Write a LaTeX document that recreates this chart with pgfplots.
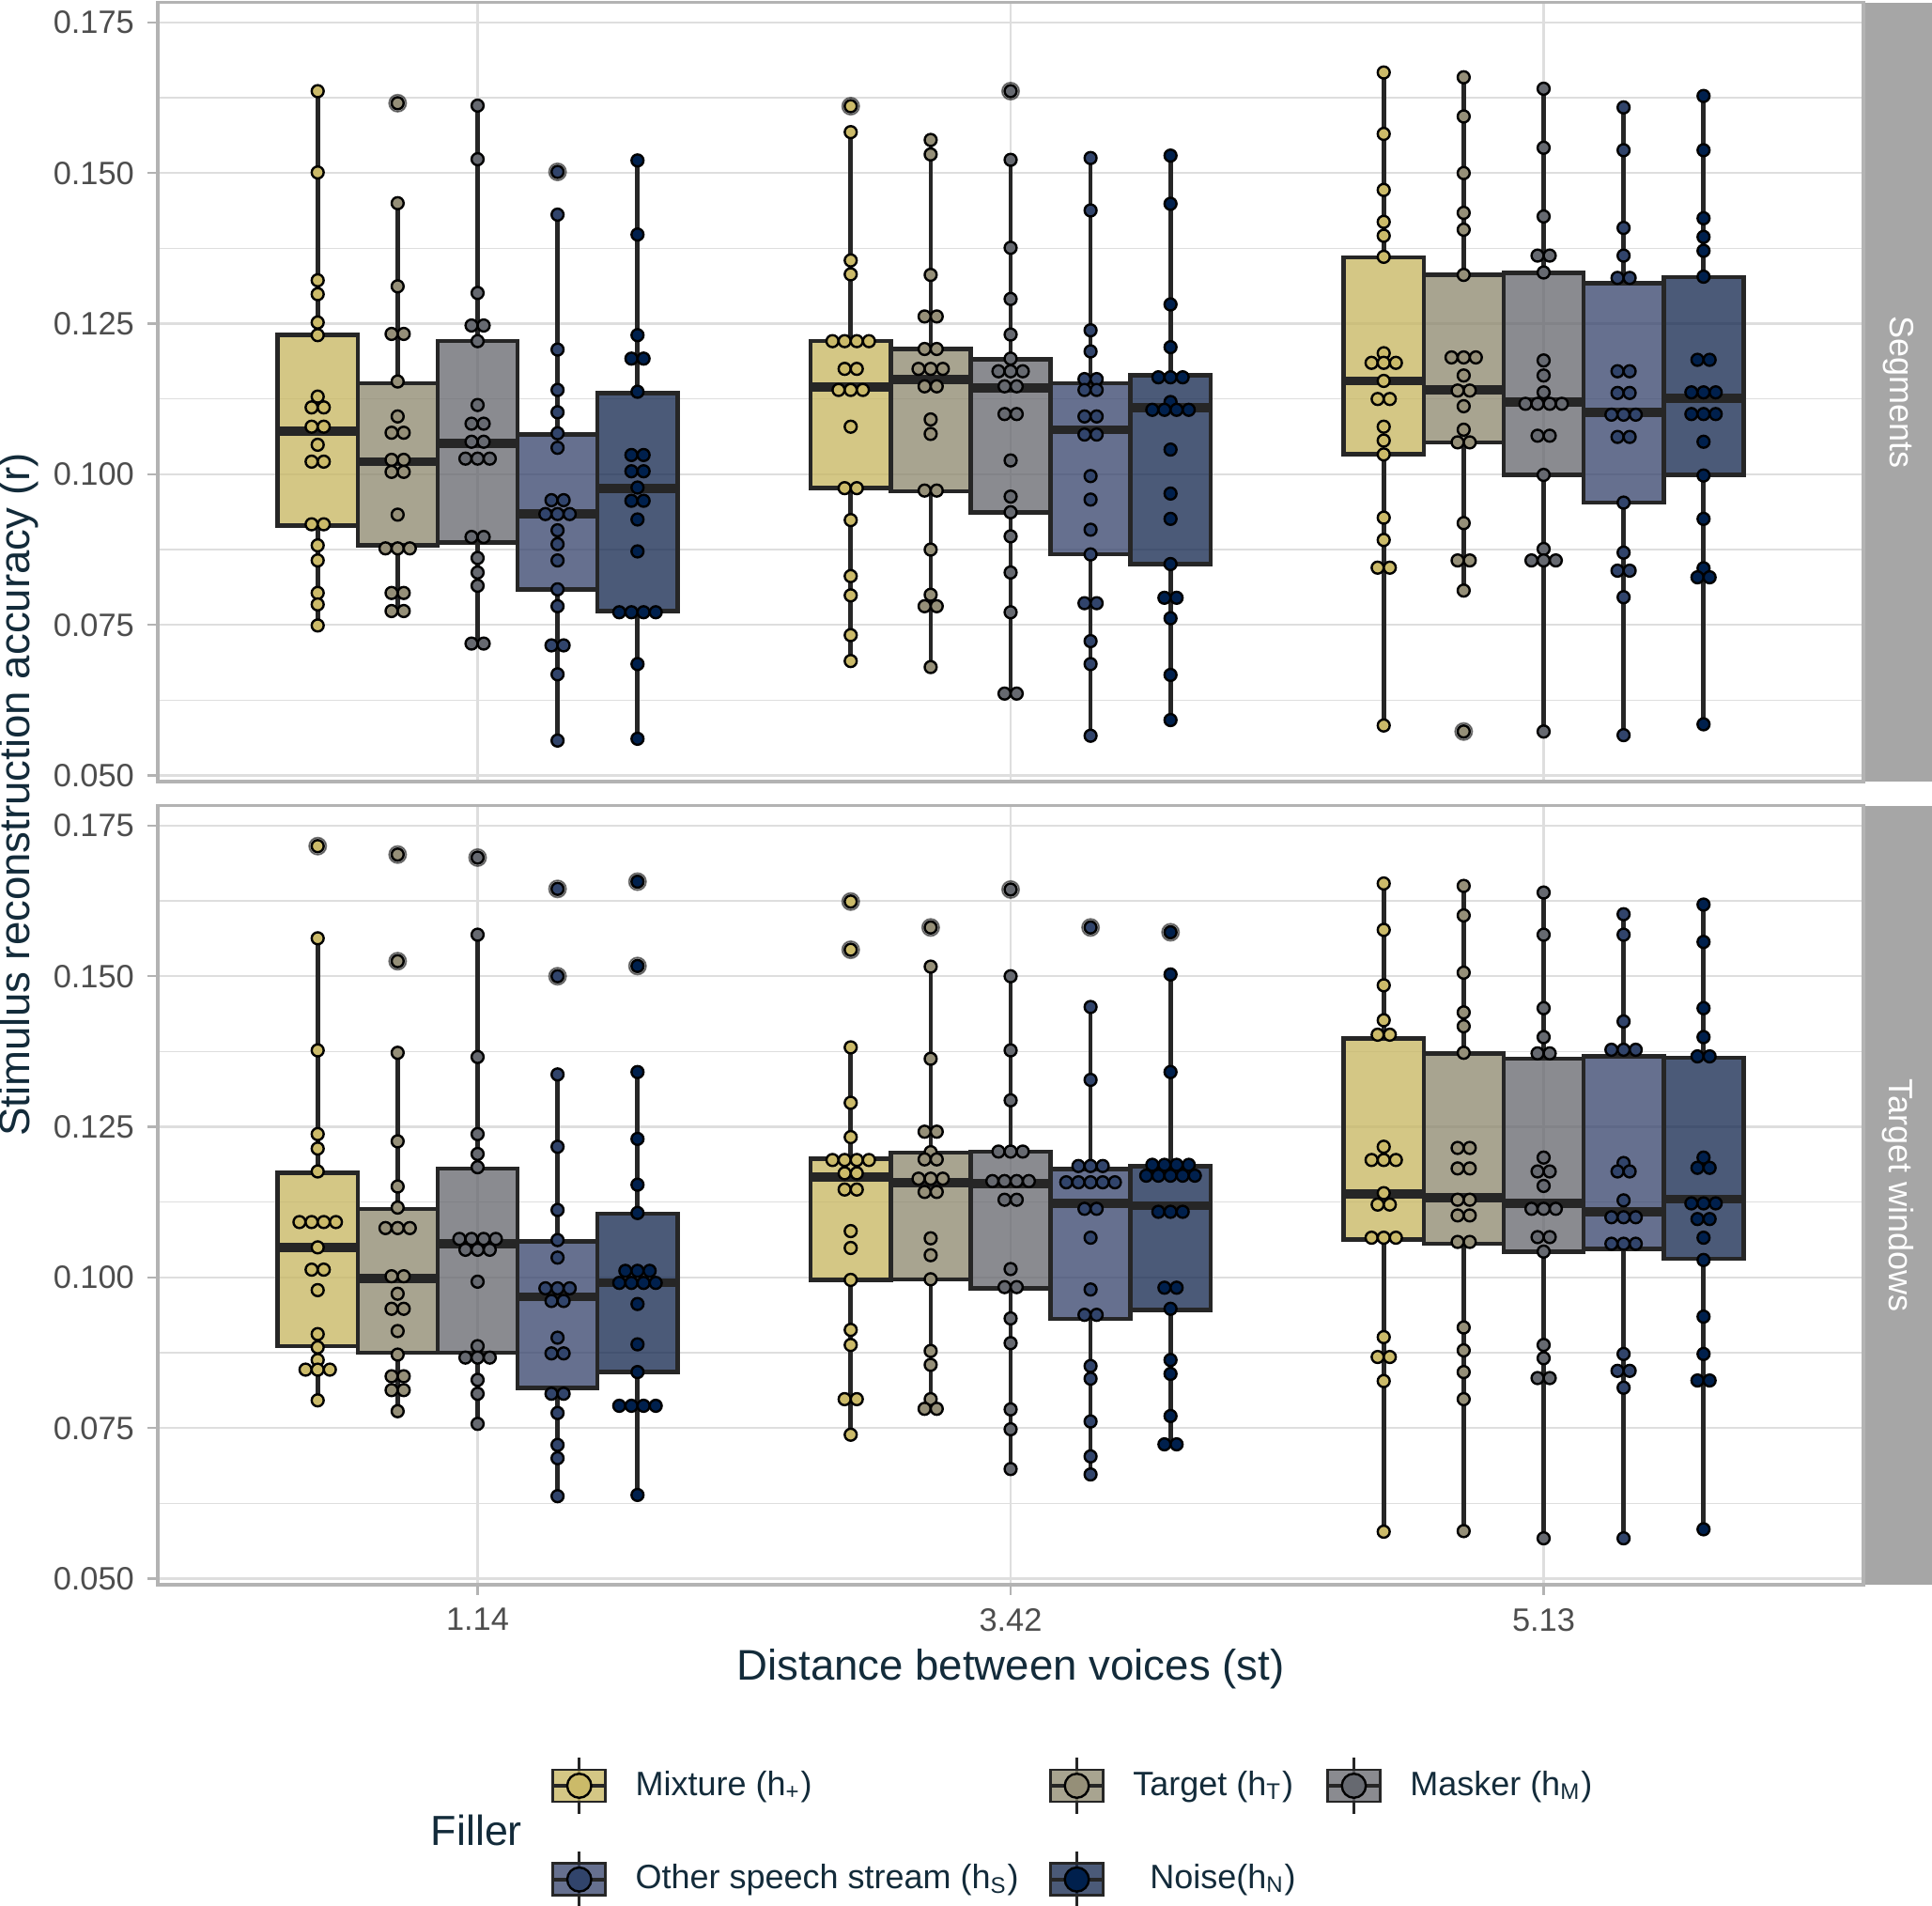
\documentclass[border=0pt]{standalone}
\usepackage{fontspec}
\setmainfont{Liberation Sans}
\usepackage{pgfplots}
\usepackage{pgfplotstable}
\pgfplotsset{compat=1.18}

\definecolor{cMix}{HTML}{CBBA69}
\definecolor{cTar}{HTML}{958F78}
\definecolor{cMas}{HTML}{666970}
\definecolor{cOth}{HTML}{31446B}
\definecolor{cNoi}{HTML}{00204D}
\definecolor{bMix}{HTML}{C8B763}
\definecolor{bTar}{HTML}{8F8A71}
\definecolor{bMas}{HTML}{696A71}
\definecolor{bOth}{HTML}{3B486F}
\definecolor{bNoi}{HTML}{182B52}
\definecolor{boxline}{HTML}{262626}
\definecolor{gridc}{HTML}{DEDEDE}
\definecolor{borderc}{HTML}{B3B3B3}
\definecolor{stripc}{HTML}{A6A6A6}
\definecolor{titlec}{HTML}{132B3A}
\definecolor{tickc}{HTML}{4D4D4D}

% ---------------- Segments panel: dots (pos = box position, k = stack offset, y = value)
\pgfplotstableread[row sep=\\]{
pos k y\\
0.7 0 0.1636\\ 0.7 0 0.1501\\ 0.7 0 0.1322\\ 0.7 0 0.1299\\ 0.7 0 0.1252\\ 0.7 0 0.1231\\ 0.7 0 0.1129\\
0.7 -0.5 0.1111\\ 0.7 0.5 0.1111\\ 0.7 -0.5 0.1079\\ 0.7 0.5 0.1079\\ 0.7 0 0.1049\\ 0.7 -0.5 0.1021\\ 0.7 0.5 0.1021\\
0.7 -0.5 0.0917\\ 0.7 0.5 0.0917\\ 0.7 0 0.0882\\ 0.7 0 0.0857\\ 0.7 0 0.0803\\ 0.7 0 0.0784\\ 0.7 0 0.0749\\
1.7 0 0.1611\\ 1.7 0 0.1568\\ 1.7 0 0.1355\\ 1.7 0 0.1332\\ 1.7 -1.5 0.1221\\ 1.7 -0.5 0.1221\\ 1.7 0.5 0.1221\\ 1.7 1.5 0.1221\\
1.7 -0.5 0.1175\\ 1.7 0.5 0.1175\\ 1.7 -1 0.1140\\ 1.7 0 0.1140\\ 1.7 1 0.1140\\ 1.7 0 0.1079\\ 1.7 -0.5 0.0977\\ 1.7 0.5 0.0977\\
1.7 0 0.0924\\ 1.7 0 0.0831\\ 1.7 0 0.0799\\ 1.7 0 0.0733\\ 1.7 0 0.0690\\
2.7 0 0.1667\\ 2.7 0 0.1565\\ 2.7 0 0.1472\\ 2.7 0 0.1419\\ 2.7 0 0.1396\\ 2.7 0 0.1361\\ 2.7 0 0.1201\\
2.7 -1 0.1185\\ 2.7 0 0.1185\\ 2.7 1 0.1185\\ 2.7 0 0.1155\\ 2.7 -0.5 0.1125\\ 2.7 0.5 0.1125\\ 2.7 0 0.1079\\ 2.7 0 0.1056\\
2.7 0 0.1033\\ 2.7 0 0.0928\\ 2.7 0 0.0891\\ 2.7 -0.5 0.0845\\ 2.7 0.5 0.0845\\ 2.7 0 0.0583\\
}\MixS
\pgfplotstableread[row sep=\\]{
pos k y\\
0.85 0 0.1616\\ 0.85 0 0.1450\\ 0.85 0 0.1312\\ 0.85 -0.5 0.1233\\ 0.85 0.5 0.1233\\ 0.85 0 0.1154\\ 0.85 0 0.1096\\
0.85 -0.5 0.1069\\ 0.85 0.5 0.1069\\ 0.85 -0.5 0.1024\\ 0.85 0.5 0.1024\\ 0.85 -0.5 0.1004\\ 0.85 0.5 0.1004\\ 0.85 0 0.0933\\
0.85 -1 0.0877\\ 0.85 0 0.0877\\ 0.85 1 0.0877\\ 0.85 -0.5 0.0803\\ 0.85 0.5 0.0803\\ 0.85 -0.5 0.0773\\ 0.85 0.5 0.0773\\
1.85 0 0.1555\\ 1.85 0 0.1531\\ 1.85 0 0.1331\\ 1.85 -0.5 0.1262\\ 1.85 0.5 0.1262\\ 1.85 -0.5 0.1208\\ 1.85 0.5 0.1208\\
1.85 -1 0.1175\\ 1.85 0 0.1175\\ 1.85 1 0.1175\\ 1.85 -0.5 0.1146\\ 1.85 0.5 0.1146\\ 1.85 0 0.1091\\ 1.85 0 0.1067\\
1.85 -0.5 0.0973\\ 1.85 0.5 0.0973\\ 1.85 0 0.0875\\ 1.85 0 0.0800\\ 1.85 -0.5 0.0781\\ 1.85 0.5 0.0781\\ 1.85 0 0.0680\\
2.85 0 0.1659\\ 2.85 0 0.1594\\ 2.85 0 0.1500\\ 2.85 0 0.1434\\ 2.85 0 0.1406\\ 2.85 0 0.1331\\ 2.85 -1 0.1194\\ 2.85 0 0.1194\\
2.85 1 0.1194\\ 2.85 0 0.1164\\ 2.85 -0.5 0.1139\\ 2.85 0.5 0.1139\\ 2.85 0 0.1113\\ 2.85 0 0.1074\\ 2.85 -0.5 0.1053\\ 2.85 0.5 0.1053\\
2.85 0 0.0919\\ 2.85 -0.5 0.0857\\ 2.85 0.5 0.0857\\ 2.85 0 0.0807\\ 2.85 0 0.0573\\
}\TarS
\pgfplotstableread[row sep=\\]{
pos k y\\
1.0 0 0.1612\\ 1.0 0 0.1523\\ 1.0 0 0.1301\\ 1.0 -0.5 0.1247\\ 1.0 0.5 0.1247\\ 1.0 0 0.1221\\ 1.0 0 0.1115\\
1.0 -0.5 0.1084\\ 1.0 0.5 0.1084\\ 1.0 -0.5 0.1054\\ 1.0 0.5 0.1054\\ 1.0 -1 0.1026\\ 1.0 0 0.1026\\ 1.0 1 0.1026\\
1.0 -0.5 0.0896\\ 1.0 0.5 0.0896\\ 1.0 0 0.0861\\ 1.0 0 0.0837\\ 1.0 0 0.0815\\ 1.0 -0.5 0.0719\\ 1.0 0.5 0.0719\\
2.0 0 0.1636\\ 2.0 0 0.1522\\ 2.0 0 0.1376\\ 2.0 0 0.1291\\ 2.0 0 0.1232\\ 2.0 0 0.1192\\ 2.0 -1 0.1171\\ 2.0 0 0.1171\\ 2.0 1 0.1171\\
2.0 -0.5 0.1146\\ 2.0 0.5 0.1146\\ 2.0 -0.5 0.1100\\ 2.0 0.5 0.1100\\ 2.0 0 0.1023\\ 2.0 0 0.0963\\ 2.0 0 0.0937\\ 2.0 0 0.0897\\
2.0 0 0.0837\\ 2.0 0 0.0771\\ 2.0 -0.5 0.0636\\ 2.0 0.5 0.0636\\
3.0 0 0.1640\\ 3.0 0 0.1542\\ 3.0 0 0.1428\\ 3.0 -0.5 0.1363\\ 3.0 0.5 0.1363\\ 3.0 0 0.1335\\ 3.0 0 0.1189\\ 3.0 0 0.1164\\
3.0 0 0.1136\\ 3.0 -1.5 0.1117\\ 3.0 -0.5 0.1117\\ 3.0 0.5 0.1117\\ 3.0 1.5 0.1117\\ 3.0 -0.5 0.1064\\ 3.0 0.5 0.1064\\ 3.0 0 0.0999\\
3.0 0 0.0876\\ 3.0 -1 0.0857\\ 3.0 0 0.0857\\ 3.0 1 0.0857\\ 3.0 0 0.0573\\
}\MasS
\pgfplotstableread[row sep=\\]{
pos k y\\
1.15 0 0.1502\\ 1.15 0 0.1431\\ 1.15 0 0.1207\\ 1.15 0 0.1140\\ 1.15 0 0.1103\\ 1.15 0 0.1068\\ 1.15 0 0.1044\\
1.15 -0.5 0.0957\\ 1.15 0.5 0.0957\\ 1.15 -1 0.0934\\ 1.15 0 0.0934\\ 1.15 1 0.0934\\ 1.15 0 0.0907\\ 1.15 0 0.0884\\
1.15 0 0.0857\\ 1.15 0 0.0809\\ 1.15 0 0.0781\\ 1.15 -0.5 0.0716\\ 1.15 0.5 0.0716\\ 1.15 0 0.0668\\ 1.15 0 0.0558\\
2.15 0 0.1525\\ 2.15 0 0.1438\\ 2.15 0 0.1239\\ 2.15 0 0.1204\\ 2.15 -0.5 0.1158\\ 2.15 0.5 0.1158\\ 2.15 -0.5 0.1140\\ 2.15 0.5 0.1140\\
2.15 -0.5 0.1096\\ 2.15 0.5 0.1096\\ 2.15 -0.5 0.1066\\ 2.15 0.5 0.1066\\ 2.15 0 0.0997\\ 2.15 0 0.0958\\ 2.15 0 0.0908\\
2.15 0 0.0867\\ 2.15 -0.5 0.0786\\ 2.15 0.5 0.0786\\ 2.15 0 0.0723\\ 2.15 0 0.0685\\ 2.15 0 0.0566\\
3.15 0 0.1609\\ 3.15 0 0.1538\\ 3.15 0 0.1409\\ 3.15 0 0.1363\\ 3.15 -0.5 0.1326\\ 3.15 0.5 0.1326\\ 3.15 -0.5 0.1171\\ 3.15 0.5 0.1171\\
3.15 -0.5 0.1135\\ 3.15 0.5 0.1135\\ 3.15 -1 0.1099\\ 3.15 0 0.1099\\ 3.15 1 0.1099\\ 3.15 -0.5 0.1062\\ 3.15 0.5 0.1062\\
3.15 0 0.0953\\ 3.15 0 0.0870\\ 3.15 -0.5 0.0840\\ 3.15 0.5 0.0840\\ 3.15 0 0.0796\\ 3.15 0 0.0567\\
}\OthS
\pgfplotstableread[row sep=\\]{
pos k y\\
1.3 0 0.1521\\ 1.3 0 0.1398\\ 1.3 0 0.1231\\ 1.3 -0.5 0.1192\\ 1.3 0.5 0.1192\\ 1.3 0 0.1137\\ 1.3 -0.5 0.1032\\ 1.3 0.5 0.1032\\
1.3 -0.5 0.1005\\ 1.3 0.5 0.1005\\ 1.3 0 0.0978\\ 1.3 -0.5 0.0956\\ 1.3 0.5 0.0956\\ 1.3 0 0.0925\\ 1.3 0 0.0872\\
1.3 -1.5 0.0771\\ 1.3 -0.5 0.0771\\ 1.3 0.5 0.0771\\ 1.3 1.5 0.0771\\ 1.3 0 0.0685\\ 1.3 0 0.0561\\
2.3 0 0.1529\\ 2.3 0 0.1449\\ 2.3 0 0.1282\\ 2.3 0 0.1211\\ 2.3 -1 0.1161\\ 2.3 0 0.1161\\ 2.3 1 0.1161\\ 2.3 0 0.1120\\
2.3 -1.5 0.1107\\ 2.3 -0.5 0.1107\\ 2.3 0.5 0.1107\\ 2.3 1.5 0.1107\\ 2.3 0 0.1041\\ 2.3 0 0.0968\\ 2.3 0 0.0926\\ 2.3 0 0.0851\\
2.3 -0.5 0.0795\\ 2.3 0.5 0.0795\\ 2.3 0 0.0761\\ 2.3 0 0.0667\\ 2.3 0 0.0592\\
3.3 0 0.1628\\ 3.3 0 0.1538\\ 3.3 0 0.1425\\ 3.3 0 0.1394\\ 3.3 0 0.1371\\ 3.3 0 0.1328\\ 3.3 -0.5 0.1190\\ 3.3 0.5 0.1190\\
3.3 -1 0.1136\\ 3.3 0 0.1136\\ 3.3 1 0.1136\\ 3.3 -1 0.1100\\ 3.3 0 0.1100\\ 3.3 1 0.1100\\ 3.3 0 0.1054\\ 3.3 0 0.0998\\
3.3 0 0.0926\\ 3.3 0 0.0844\\ 3.3 -0.5 0.0829\\ 3.3 0.5 0.0829\\ 3.3 0 0.0585\\
}\NoiS
\pgfplotstableread[row sep=\\]{
pos y\\
0.85 0.1616\\ 1.15 0.1502\\ 1.7 0.1611\\ 2.0 0.1636\\ 2.85 0.0573\\
}\OutS

% ---------------- Target windows panel
\pgfplotstableread[row sep=\\]{
pos k y\\
0.7 0 0.1716\\ 0.7 0 0.1563\\ 0.7 0 0.1377\\ 0.7 0 0.1238\\ 0.7 0 0.1214\\ 0.7 0 0.1176\\
0.7 -1.5 0.1092\\ 0.7 -0.5 0.1092\\ 0.7 0.5 0.1092\\ 0.7 1.5 0.1092\\ 0.7 0 0.1050\\ 0.7 -0.5 0.1013\\ 0.7 0.5 0.1013\\
0.7 0 0.0979\\ 0.7 0 0.0906\\ 0.7 0 0.0884\\ 0.7 0 0.0863\\ 0.7 -1 0.0847\\ 0.7 0 0.0847\\ 0.7 1 0.0847\\ 0.7 0 0.0796\\
1.7 0 0.1624\\ 1.7 0 0.1544\\ 1.7 0 0.1382\\ 1.7 0 0.1290\\ 1.7 0 0.1233\\ 1.7 -1.5 0.1195\\ 1.7 -0.5 0.1195\\ 1.7 0.5 0.1195\\ 1.7 1.5 0.1195\\
1.7 -0.5 0.1173\\ 1.7 0.5 0.1173\\ 1.7 -0.5 0.1146\\ 1.7 0.5 0.1146\\ 1.7 0 0.1077\\ 1.7 0 0.1049\\ 1.7 0 0.0996\\ 1.7 0 0.0913\\
1.7 0 0.0888\\ 1.7 -0.5 0.0798\\ 1.7 0.5 0.0798\\ 1.7 0 0.0739\\
2.7 0 0.1654\\ 2.7 0 0.1577\\ 2.7 0 0.1485\\ 2.7 0 0.1427\\ 2.7 -0.5 0.1403\\ 2.7 0.5 0.1403\\ 2.7 0 0.1217\\
2.7 -1 0.1195\\ 2.7 0 0.1195\\ 2.7 1 0.1195\\ 2.7 0 0.1140\\ 2.7 -0.5 0.1121\\ 2.7 0.5 0.1121\\ 2.7 -1 0.1066\\ 2.7 0 0.1066\\ 2.7 1 0.1066\\
2.7 0 0.0901\\ 2.7 -0.5 0.0868\\ 2.7 0.5 0.0868\\ 2.7 0 0.0828\\ 2.7 0 0.0578\\
}\MixW
\pgfplotstableread[row sep=\\]{
pos k y\\
0.85 0 0.1702\\ 0.85 0 0.1525\\ 0.85 0 0.1373\\ 0.85 0 0.1226\\ 0.85 0 0.1151\\ 0.85 0 0.1116\\
0.85 -1 0.1082\\ 0.85 0 0.1082\\ 0.85 1 0.1082\\ 0.85 -0.5 0.1002\\ 0.85 0.5 0.1002\\ 0.85 0 0.0973\\ 0.85 -0.5 0.0948\\ 0.85 0.5 0.0948\\
0.85 0 0.0911\\ 0.85 0 0.0872\\ 0.85 -0.5 0.0836\\ 0.85 0.5 0.0836\\ 0.85 -0.5 0.0813\\ 0.85 0.5 0.0813\\ 0.85 0 0.0778\\
1.85 0 0.1581\\ 1.85 0 0.1516\\ 1.85 0 0.1363\\ 1.85 -0.5 0.1242\\ 1.85 0.5 0.1242\\ 1.85 0 0.1208\\ 1.85 -0.5 0.1196\\ 1.85 0.5 0.1196\\
1.85 -1 0.1164\\ 1.85 0 0.1164\\ 1.85 1 0.1164\\ 1.85 -0.5 0.1142\\ 1.85 0.5 0.1142\\ 1.85 0 0.1065\\ 1.85 0 0.1037\\ 1.85 0 0.0997\\
1.85 0 0.0878\\ 1.85 0 0.0855\\ 1.85 0 0.0798\\ 1.85 -0.5 0.0782\\ 1.85 0.5 0.0782\\
2.85 0 0.1650\\ 2.85 0 0.1601\\ 2.85 0 0.1506\\ 2.85 0 0.1440\\ 2.85 0 0.1417\\ 2.85 0 0.1373\\ 2.85 -0.5 0.1215\\ 2.85 0.5 0.1215\\
2.85 -0.5 0.1181\\ 2.85 0.5 0.1181\\ 2.85 -0.5 0.1129\\ 2.85 0.5 0.1129\\ 2.85 -0.5 0.1103\\ 2.85 0.5 0.1103\\ 2.85 -0.5 0.1059\\ 2.85 0.5 0.1059\\
2.85 0 0.0917\\ 2.85 0 0.0879\\ 2.85 0 0.0843\\ 2.85 0 0.0798\\ 2.85 0 0.0579\\
}\TarW
\pgfplotstableread[row sep=\\]{
pos k y\\
1.0 0 0.1697\\ 1.0 0 0.1569\\ 1.0 0 0.1366\\ 1.0 0 0.1238\\ 1.0 0 0.1205\\ 1.0 0 0.1183\\
1.0 -1.5 0.1064\\ 1.0 -0.5 0.1064\\ 1.0 0.5 0.1064\\ 1.0 1.5 0.1064\\ 1.0 -1 0.1046\\ 1.0 0 0.1046\\ 1.0 1 0.1046\\
1.0 0 0.0993\\ 1.0 0 0.0886\\ 1.0 -1 0.0867\\ 1.0 0 0.0867\\ 1.0 1 0.0867\\ 1.0 0 0.0830\\ 1.0 0 0.0807\\ 1.0 0 0.0757\\
2.0 0 0.1644\\ 2.0 0 0.1500\\ 2.0 0 0.1377\\ 2.0 0 0.1294\\ 2.0 -1 0.1209\\ 2.0 0 0.1209\\ 2.0 1 0.1209\\
2.0 -1.5 0.1160\\ 2.0 -0.5 0.1160\\ 2.0 0.5 0.1160\\ 2.0 1.5 0.1160\\ 2.0 -0.5 0.1129\\ 2.0 0.5 0.1129\\ 2.0 0 0.1014\\
2.0 -0.5 0.0984\\ 2.0 0.5 0.0984\\ 2.0 0 0.0932\\ 2.0 0 0.0891\\ 2.0 0 0.0781\\ 2.0 0 0.0748\\ 2.0 0 0.0682\\
3.0 0 0.1639\\ 3.0 0 0.1569\\ 3.0 0 0.1447\\ 3.0 0 0.1399\\ 3.0 -0.5 0.1372\\ 3.0 0.5 0.1372\\ 3.0 0 0.1199\\
3.0 -0.5 0.1176\\ 3.0 0.5 0.1176\\ 3.0 0 0.1152\\ 3.0 -1 0.1114\\ 3.0 0 0.1114\\ 3.0 1 0.1114\\ 3.0 -0.5 0.1067\\ 3.0 0.5 0.1067\\
3.0 0 0.1043\\ 3.0 0 0.0888\\ 3.0 0 0.0866\\ 3.0 -0.5 0.0833\\ 3.0 0.5 0.0833\\ 3.0 0 0.0567\\
}\MasW
\pgfplotstableread[row sep=\\]{
pos k y\\
1.15 0 0.1645\\ 1.15 0 0.1500\\ 1.15 0 0.1337\\ 1.15 0 0.1217\\ 1.15 0 0.1112\\ 1.15 0 0.1062\\ 1.15 0 0.1033\\
1.15 -1 0.0982\\ 1.15 0 0.0982\\ 1.15 1 0.0982\\ 1.15 -0.5 0.0961\\ 1.15 0.5 0.0961\\ 1.15 0 0.0900\\ 1.15 -0.5 0.0874\\ 1.15 0.5 0.0874\\
1.15 -0.5 0.0807\\ 1.15 0.5 0.0807\\ 1.15 0 0.0775\\ 1.15 0 0.0722\\ 1.15 0 0.0700\\ 1.15 0 0.0637\\
2.15 0 0.1581\\ 2.15 0 0.1449\\ 2.15 0 0.1328\\ 2.15 -1 0.1185\\ 2.15 0 0.1185\\ 2.15 1 0.1185\\
2.15 -2 0.1158\\ 2.15 -1 0.1158\\ 2.15 0 0.1158\\ 2.15 1 0.1158\\ 2.15 2 0.1158\\ 2.15 -0.5 0.1114\\ 2.15 0.5 0.1114\\
2.15 0 0.1066\\ 2.15 0 0.0980\\ 2.15 -0.5 0.0938\\ 2.15 0.5 0.0938\\ 2.15 0 0.0853\\ 2.15 0 0.0832\\ 2.15 0 0.0761\\ 2.15 0 0.0703\\ 2.15 0 0.0673\\
3.15 0 0.1603\\ 3.15 0 0.1569\\ 3.15 0 0.1425\\ 3.15 -1 0.1378\\ 3.15 0 0.1378\\ 3.15 1 0.1378\\ 3.15 0 0.1190\\
3.15 -0.5 0.1176\\ 3.15 0.5 0.1176\\ 3.15 0 0.1128\\ 3.15 -1 0.1100\\ 3.15 0 0.1100\\ 3.15 1 0.1100\\ 3.15 -1 0.1056\\ 3.15 0 0.1056\\ 3.15 1 0.1056\\
3.15 0 0.0873\\ 3.15 -0.5 0.0845\\ 3.15 0.5 0.0845\\ 3.15 0 0.0817\\ 3.15 0 0.0567\\
}\OthW
\pgfplotstableread[row sep=\\]{
pos k y\\
1.3 0 0.1657\\ 1.3 0 0.1517\\ 1.3 0 0.1341\\ 1.3 0 0.1230\\ 1.3 0 0.1154\\ 1.3 0 0.1107\\
1.3 -1 0.1011\\ 1.3 0 0.1011\\ 1.3 1 0.1011\\ 1.3 -1.5 0.0991\\ 1.3 -0.5 0.0991\\ 1.3 0.5 0.0991\\ 1.3 1.5 0.0991\\
1.3 0 0.0956\\ 1.3 0 0.0889\\ 1.3 0 0.0843\\ 1.3 -1.5 0.0787\\ 1.3 -0.5 0.0787\\ 1.3 0.5 0.0787\\ 1.3 1.5 0.0787\\ 1.3 0 0.0639\\
2.3 0 0.1573\\ 2.3 0 0.1503\\ 2.3 0 0.1341\\ 2.3 -1.5 0.1187\\ 2.3 -0.5 0.1187\\ 2.3 0.5 0.1187\\ 2.3 1.5 0.1187\\
2.3 -2 0.1169\\ 2.3 -1 0.1169\\ 2.3 0 0.1169\\ 2.3 1 0.1169\\ 2.3 2 0.1169\\ 2.3 -1 0.1109\\ 2.3 0 0.1109\\ 2.3 1 0.1109\\
2.3 -0.5 0.0983\\ 2.3 0.5 0.0983\\ 2.3 0 0.0948\\ 2.3 0 0.0863\\ 2.3 0 0.0840\\ 2.3 0 0.0770\\ 2.3 -0.5 0.0723\\ 2.3 0.5 0.0723\\
3.3 0 0.1619\\ 3.3 0 0.1557\\ 3.3 0 0.1447\\ 3.3 0 0.1399\\ 3.3 -0.5 0.1367\\ 3.3 0.5 0.1367\\ 3.3 0 0.1199\\
3.3 -0.5 0.1182\\ 3.3 0.5 0.1182\\ 3.3 -1 0.1123\\ 3.3 0 0.1123\\ 3.3 1 0.1123\\ 3.3 -0.5 0.1097\\ 3.3 0.5 0.1097\\
3.3 0 0.1066\\ 3.3 0 0.1029\\ 3.3 0 0.0935\\ 3.3 0 0.0873\\ 3.3 -0.5 0.0829\\ 3.3 0.5 0.0829\\ 3.3 0 0.0582\\
}\NoiW
\pgfplotstableread[row sep=\\]{
pos y\\
0.7 0.1716\\ 0.85 0.1702\\ 0.85 0.1525\\ 1.0 0.1697\\ 1.15 0.1645\\ 1.15 0.1500\\ 1.3 0.1657\\ 1.3 0.1517\\
1.7 0.1624\\ 1.7 0.1544\\ 1.85 0.1581\\ 2.0 0.1644\\ 2.15 0.1581\\ 2.3 0.1573\\
}\OutW

\pgfplotsset{
  /pgf/number format/assume math mode=true,
  panel/.style={
    width=454pt, height=207.3pt, scale only axis, anchor=south west,
    xmin=0.4, xmax=3.6, ymin=0.0490, ymax=0.1783,
    xtick={1,2,3},
    ytick={0.05,0.075,0.1,0.125,0.15,0.175},
    minor ytick={0.0625,0.0875,0.1125,0.1375,0.1625},
    yticklabel style={/pgf/number format/.cd, fixed, fixed zerofill, precision=3},
    grid=both,
    major grid style={gridc, line width=0.55pt},
    minor grid style={gridc, line width=0.3pt},
    axis line style={borderc, line width=0.8pt},
    tick pos=left, tick align=outside,
    major tick length=2.75pt, minor tick length=0pt,
    tick style={borderc, line width=0.55pt},
    tick label style={font=\fontsize{8.6}{10}\selectfont, text=tickc},
  },
  wsk/.style={forget plot, draw=boxline, line width=1.15pt, mark=none, solid},
  dots/.style={forget plot, only marks, mark=*, mark size=1.6pt,
    mark options={fill=#1, draw=black, line width=0.6pt, solid}},
  halo/.style={forget plot, only marks, mark=*, mark size=2.3pt,
    mark options={fill=black!70, draw=none, opacity=0.5}},
  keyimg/.style={legend image code/.code={
    \draw[boxline, line width=0.7pt] (7pt,-7.4pt) -- (7pt,7.4pt);
    \draw[boxline, line width=0.7pt, fill=b#1, fill opacity=0.78] (0pt,-4.25pt) rectangle (14pt,4.25pt);
    \draw[boxline, line width=0.9pt] (0pt,0pt) -- (14pt,0pt);
    \draw[black, line width=0.6pt, fill=c#1] (7pt,0pt) circle (3.2pt);
  }},
}
% box: #1 position, #2 left edge, #3 right edge, #4 lower whisker, #5 Q1, #6 median, #7 Q3, #8 upper whisker, #9 colour
\newcommand{\bx}[9]{%
  \addplot[wsk] coordinates {(#1,#4) (#1,#5)};
  \addplot[wsk] coordinates {(#1,#7) (#1,#8)};
  \addplot[wsk, fill=#9, fill opacity=0.78] coordinates {(#2,#5) (#3,#5) (#3,#7) (#2,#7)} -- cycle;
  \addplot[wsk, line width=2.4pt] coordinates {(#2,#6) (#3,#6)};
}

\begin{document}
\begin{tikzpicture}
\path[use as bounding box] (0,0) rectangle (514.25pt,507.25pt);

% ================= Segments
\begin{axis}[panel, at={(42pt,299.25pt)}, xticklabels={}, xtick style={draw=none}]
\bx{0.7}{0.625}{0.775}{0.0749}{0.0915}{0.1072}{0.1231}{0.1636}{bMix}
\bx{0.85}{0.775}{0.925}{0.0773}{0.0882}{0.1021}{0.1151}{0.1450}{bTar}
\bx{1.0}{0.925}{1.075}{0.0719}{0.0887}{0.1051}{0.1221}{0.1612}{bMas}
\bx{1.15}{1.075}{1.225}{0.0558}{0.0809}{0.0934}{0.1066}{0.1431}{bOth}
\bx{1.3}{1.225}{1.375}{0.0561}{0.0773}{0.0976}{0.1135}{0.1521}{bNoi}
\bx{1.7}{1.625}{1.775}{0.0690}{0.0977}{0.1145}{0.1221}{0.1568}{bMix}
\bx{1.85}{1.775}{1.925}{0.0680}{0.0972}{0.1157}{0.1208}{0.1555}{bTar}
\bx{2.0}{1.925}{2.075}{0.0636}{0.0937}{0.1143}{0.1191}{0.1522}{bMas}
\bx{2.15}{2.075}{2.225}{0.0566}{0.0867}{0.1074}{0.1151}{0.1525}{bOth}
\bx{2.3}{2.225}{2.375}{0.0592}{0.0851}{0.1111}{0.1164}{0.1529}{bNoi}
\bx{2.7}{2.625}{2.775}{0.0583}{0.1033}{0.1155}{0.1360}{0.1667}{bMix}
\bx{2.85}{2.775}{2.925}{0.0807}{0.1053}{0.1140}{0.1331}{0.1659}{bTar}
\bx{3.0}{2.925}{3.075}{0.0573}{0.0999}{0.1120}{0.1334}{0.1640}{bMas}
\bx{3.15}{3.075}{3.225}{0.0567}{0.0953}{0.1103}{0.1317}{0.1609}{bOth}
\bx{3.3}{3.225}{3.375}{0.0585}{0.0999}{0.1126}{0.1327}{0.1628}{bNoi}
\addplot[halo] table[x=pos, y=y] {\OutS};
\addplot[dots=cMix] table[x expr=\thisrow{pos}+0.0228*\thisrow{k}, y=y] {\MixS};
\addplot[dots=cTar] table[x expr=\thisrow{pos}+0.0228*\thisrow{k}, y=y] {\TarS};
\addplot[dots=cMas] table[x expr=\thisrow{pos}+0.0228*\thisrow{k}, y=y] {\MasS};
\addplot[dots=cOth] table[x expr=\thisrow{pos}+0.0228*\thisrow{k}, y=y] {\OthS};
\addplot[dots=cNoi] table[x expr=\thisrow{pos}+0.0228*\thisrow{k}, y=y] {\NoiS};
\end{axis}

% ================= Target windows
\begin{axis}[panel, at={(42pt,85.5pt)}, xticklabels={1.14,3.42,5.13},
  legend columns=3, legend cell align=left,
  legend style={at={(0.2307,-0.2207)}, anchor=north west, draw=none, fill=none,
    inner sep=0pt, outer sep=0pt, row sep=9.45pt,
    font=\fontsize{9}{11}\selectfont, text=titlec, nodes={inner sep=0pt},
    /tikz/every odd column/.append style={column sep=7.5pt},
    /tikz/every even column/.append style={column sep=8pt}}]
\addlegendimage{keyimg=Mix}\addlegendentry{Mixture (h\textsubscript{+})}
\addlegendimage{keyimg=Tar}\addlegendentry{Target (h\textsubscript{T})}
\addlegendimage{keyimg=Mas}\addlegendentry{Masker (h\textsubscript{M})}
\addlegendimage{keyimg=Oth}\addlegendentry{Other speech stream (h\textsubscript{S})}
\addlegendimage{keyimg=Noi}\addlegendentry{\hspace{4.5pt}Noise(h\textsubscript{N})}
\bx{0.7}{0.625}{0.775}{0.0796}{0.0886}{0.1050}{0.1174}{0.1563}{bMix}
\bx{0.85}{0.775}{0.925}{0.0778}{0.0875}{0.0998}{0.1114}{0.1373}{bTar}
\bx{1.0}{0.925}{1.075}{0.0757}{0.0875}{0.1056}{0.1181}{0.1569}{bMas}
\bx{1.15}{1.075}{1.225}{0.0637}{0.0817}{0.0968}{0.1060}{0.1337}{bOth}
\bx{1.3}{1.225}{1.375}{0.0639}{0.0843}{0.0991}{0.1106}{0.1341}{bNoi}
\bx{1.7}{1.625}{1.775}{0.0739}{0.0996}{0.1167}{0.1197}{0.1382}{bMix}
\bx{1.85}{1.775}{1.925}{0.0782}{0.0997}{0.1157}{0.1207}{0.1516}{bTar}
\bx{2.0}{1.925}{2.075}{0.0682}{0.0982}{0.1156}{0.1209}{0.1500}{bMas}
\bx{2.15}{2.075}{2.225}{0.0673}{0.0931}{0.1123}{0.1180}{0.1449}{bOth}
\bx{2.3}{2.225}{2.375}{0.0723}{0.0946}{0.1119}{0.1185}{0.1503}{bNoi}
\bx{2.7}{2.625}{2.775}{0.0578}{0.1063}{0.1139}{0.1397}{0.1654}{bMix}
\bx{2.85}{2.775}{2.925}{0.0579}{0.1056}{0.1132}{0.1372}{0.1650}{bTar}
\bx{3.0}{2.925}{3.075}{0.0567}{0.1043}{0.1123}{0.1363}{0.1639}{bMas}
\bx{3.15}{3.075}{3.225}{0.0567}{0.1047}{0.1109}{0.1367}{0.1603}{bOth}
\bx{3.3}{3.225}{3.375}{0.0582}{0.1031}{0.1130}{0.1365}{0.1619}{bNoi}
\addplot[halo] table[x=pos, y=y] {\OutW};
\addplot[dots=cMix] table[x expr=\thisrow{pos}+0.0228*\thisrow{k}, y=y] {\MixW};
\addplot[dots=cTar] table[x expr=\thisrow{pos}+0.0228*\thisrow{k}, y=y] {\TarW};
\addplot[dots=cMas] table[x expr=\thisrow{pos}+0.0228*\thisrow{k}, y=y] {\MasW};
\addplot[dots=cOth] table[x expr=\thisrow{pos}+0.0228*\thisrow{k}, y=y] {\OthW};
\addplot[dots=cNoi] table[x expr=\thisrow{pos}+0.0228*\thisrow{k}, y=y] {\NoiW};
\end{axis}

% facet strips
\fill[stripc] (496.4pt,299.25pt) rectangle (514.25pt,506.6pt);
\fill[stripc] (496.4pt,85.5pt) rectangle (514.25pt,292.8pt);
\node[rotate=-90, text=white, font=\fontsize{9}{10}\selectfont, inner sep=0pt] at (505.3pt,402.9pt) {Segments};
\node[rotate=-90, text=white, font=\fontsize{9}{10}\selectfont, inner sep=0pt] at (505.3pt,189.1pt) {Target windows};

% axis titles
\node[rotate=90, anchor=base, inner sep=0pt, text=titlec, font=\fontsize{11.4}{13}\selectfont] at (8pt,295.75pt) {Stimulus reconstruction accuracy (r)};
\node[anchor=base, inner sep=0pt, text=titlec, font=\fontsize{11.4}{13}\selectfont] at (269pt,60pt) {Distance between voices (st)};
\node[anchor=base west, inner sep=0pt, text=titlec, font=\fontsize{11.2}{13}\selectfont] at (114.5pt,16pt) {Filler};
\end{tikzpicture}
\end{document}
